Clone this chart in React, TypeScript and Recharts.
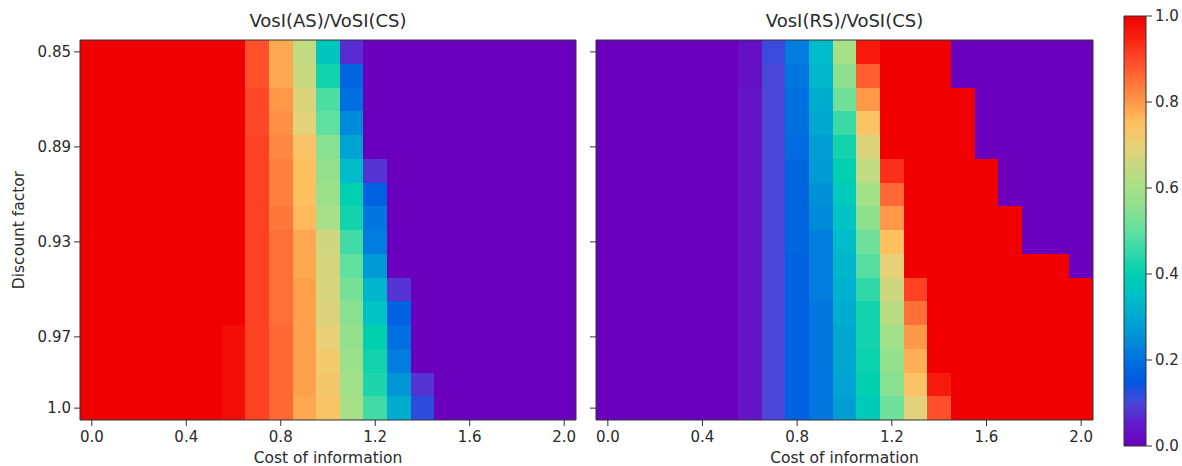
import React from 'react';
import { ScatterChart, Scatter, XAxis, YAxis, ReferenceArea } from 'recharts';

// Categories
const costs = [0.0, 0.1, 0.2, 0.3, 0.4, 0.5, 0.6, 0.7, 0.8, 0.9, 1.0, 1.1, 1.2, 1.3, 1.4, 1.5, 1.6, 1.7, 1.8, 1.9, 2.0];
const discounts = [0.85, 0.86, 0.87, 0.88, 0.89, 0.9, 0.91, 0.92, 0.93, 0.94, 0.95, 0.96, 0.97, 0.98, 0.99, 1.0];

// Tick labels
const xTicks = [0.0, 0.4, 0.8, 1.2, 1.6, 2.0];
const xTickLabels = ['0.0', '0.4', '0.8', '1.2', '1.6', '2.0'];
const yTicks = [0.85, 0.89, 0.93, 0.97, 1.0];
const yTickLabels = ['0.85', '0.89', '0.93', '0.97', '1.0'];
const cbTicks = [0.0, 0.2, 0.4, 0.6, 0.8, 1.0];
const cbTickLabels = ['0.0', '0.2', '0.4', '0.6', '0.8', '1.0'];

// VosI(AS)/VoSI(CS): one row per discount factor, one value per cost
const asGrid = [
  [1, 1, 1, 1, 1, 1, 1, 0.89, 0.78, 0.64, 0.37, 0.07, 0, 0, 0, 0, 0, 0, 0, 0, 0],
  [1, 1, 1, 1, 1, 1, 1, 0.89, 0.78, 0.65, 0.42, 0.18, 0, 0, 0, 0, 0, 0, 0, 0, 0],
  [1, 1, 1, 1, 1, 1, 1, 0.9, 0.8, 0.68, 0.48, 0.2, 0, 0, 0, 0, 0, 0, 0, 0, 0],
  [1, 1, 1, 1, 1, 1, 1, 0.9, 0.81, 0.69, 0.5, 0.24, 0, 0, 0, 0, 0, 0, 0, 0, 0],
  [1, 1, 1, 1, 1, 1, 1, 0.91, 0.82, 0.74, 0.55, 0.29, 0, 0, 0, 0, 0, 0, 0, 0, 0],
  [1, 1, 1, 1, 1, 1, 1, 0.91, 0.83, 0.75, 0.57, 0.34, 0.08, 0, 0, 0, 0, 0, 0, 0, 0],
  [1, 1, 1, 1, 1, 1, 1, 0.91, 0.83, 0.75, 0.58, 0.4, 0.17, 0, 0, 0, 0, 0, 0, 0, 0],
  [1, 1, 1, 1, 1, 1, 1, 0.91, 0.84, 0.76, 0.6, 0.42, 0.21, 0, 0, 0, 0, 0, 0, 0, 0],
  [1, 1, 1, 1, 1, 1, 1, 0.91, 0.85, 0.78, 0.66, 0.47, 0.22, 0, 0, 0, 0, 0, 0, 0, 0],
  [1, 1, 1, 1, 1, 1, 1, 0.91, 0.85, 0.78, 0.67, 0.5, 0.27, 0, 0, 0, 0, 0, 0, 0, 0],
  [1, 1, 1, 1, 1, 1, 1, 0.91, 0.85, 0.79, 0.67, 0.53, 0.33, 0.08, 0, 0, 0, 0, 0, 0, 0],
  [1, 1, 1, 1, 1, 1, 1, 0.91, 0.85, 0.79, 0.68, 0.55, 0.36, 0.17, 0, 0, 0, 0, 0, 0, 0],
  [1, 1, 1, 1, 1, 1, 0.98, 0.91, 0.86, 0.79, 0.7, 0.57, 0.4, 0.2, 0, 0, 0, 0, 0, 0, 0],
  [1, 1, 1, 1, 1, 1, 0.98, 0.91, 0.86, 0.79, 0.72, 0.58, 0.42, 0.22, 0, 0, 0, 0, 0, 0, 0],
  [1, 1, 1, 1, 1, 1, 0.98, 0.91, 0.86, 0.79, 0.73, 0.59, 0.43, 0.26, 0.08, 0, 0, 0, 0, 0, 0],
  [1, 1, 1, 1, 1, 1, 0.98, 0.91, 0.86, 0.78, 0.74, 0.6, 0.47, 0.31, 0.12, 0, 0, 0, 0, 0, 0],
];

// VosI(RS)/VoSI(CS)
const rsGrid = [
  [0, 0, 0, 0, 0, 0, 0.03, 0.11, 0.22, 0.34, 0.6, 0.96, 1, 1, 1, 0, 0, 0, 0, 0, 0],
  [0, 0, 0, 0, 0, 0, 0.03, 0.1, 0.21, 0.33, 0.56, 0.87, 1, 1, 1, 0, 0, 0, 0, 0, 0],
  [0, 0, 0, 0, 0, 0, 0.04, 0.1, 0.2, 0.31, 0.52, 0.8, 1, 1, 1, 1, 0, 0, 0, 0, 0],
  [0, 0, 0, 0, 0, 0, 0.04, 0.1, 0.2, 0.3, 0.46, 0.74, 1, 1, 1, 1, 0, 0, 0, 0, 0],
  [0, 0, 0, 0, 0, 0, 0.04, 0.1, 0.19, 0.28, 0.42, 0.68, 1, 1, 1, 1, 0, 0, 0, 0, 0],
  [0, 0, 0, 0, 0, 0, 0.04, 0.1, 0.18, 0.27, 0.4, 0.64, 0.93, 1, 1, 1, 1, 0, 0, 0, 0],
  [0, 0, 0, 0, 0, 0, 0.04, 0.1, 0.18, 0.25, 0.38, 0.59, 0.86, 1, 1, 1, 1, 0, 0, 0, 0],
  [0, 0, 0, 0, 0, 0, 0.04, 0.1, 0.18, 0.24, 0.36, 0.56, 0.8, 1, 1, 1, 1, 1, 0, 0, 0],
  [0, 0, 0, 0, 0, 0, 0.04, 0.1, 0.18, 0.22, 0.34, 0.52, 0.75, 1, 1, 1, 1, 1, 0, 0, 0],
  [0, 0, 0, 0, 0, 0, 0.04, 0.1, 0.17, 0.22, 0.33, 0.49, 0.7, 1, 1, 1, 1, 1, 1, 1, 0],
  [0, 0, 0, 0, 0, 0, 0.04, 0.1, 0.17, 0.22, 0.32, 0.45, 0.66, 0.91, 1, 1, 1, 1, 1, 1, 1],
  [0, 0, 0, 0, 0, 0, 0.04, 0.1, 0.17, 0.21, 0.31, 0.42, 0.63, 0.85, 1, 1, 1, 1, 1, 1, 1],
  [0, 0, 0, 0, 0, 0, 0.04, 0.1, 0.17, 0.21, 0.3, 0.42, 0.59, 0.8, 1, 1, 1, 1, 1, 1, 1],
  [0, 0, 0, 0, 0, 0, 0.04, 0.1, 0.17, 0.21, 0.3, 0.41, 0.57, 0.77, 1, 1, 1, 1, 1, 1, 1],
  [0, 0, 0, 0, 0, 0, 0.04, 0.1, 0.17, 0.21, 0.29, 0.4, 0.55, 0.74, 0.96, 1, 1, 1, 1, 1, 1],
  [0, 0, 0, 0, 0, 0, 0.04, 0.1, 0.17, 0.21, 0.28, 0.38, 0.52, 0.69, 0.89, 1, 1, 1, 1, 1, 1],
];

// Colour map (rainbow-like, as it appears in the picture)
const cmapStops: [number, number[]][] = [
  [0.0, [106, 0, 190]],
  [0.05, [98, 26, 202]],
  [0.1, [74, 70, 216]],
  [0.15, [0, 88, 224]],
  [0.2, [0, 112, 224]],
  [0.25, [0, 144, 216]],
  [0.3, [0, 168, 208]],
  [0.35, [0, 192, 200]],
  [0.4, [0, 208, 176]],
  [0.45, [48, 216, 168]],
  [0.5, [96, 224, 160]],
  [0.55, [136, 224, 144]],
  [0.6, [168, 224, 136]],
  [0.65, [200, 216, 128]],
  [0.7, [232, 208, 120]],
  [0.75, [255, 192, 96]],
  [0.8, [255, 152, 72]],
  [0.85, [255, 112, 56]],
  [0.9, [255, 72, 40]],
  [0.95, [248, 32, 16]],
  [1.0, [240, 0, 0]],
];

function cmap(v: number): string {
  const t = Math.max(0, Math.min(1, v));
  for (let i = 0; i < cmapStops.length - 1; i++) {
    const [a, ca] = cmapStops[i];
    const [b, cb] = cmapStops[i + 1];
    if (t <= b + 1e-9) {
      const f = b === a ? 0 : (t - a) / (b - a);
      const c = ca.map((x, k) => Math.round(x + (cb[k] - x) * f));
      return `rgb(${c[0]},${c[1]},${c[2]})`;
    }
  }
  const c = cmapStops[cmapStops.length - 1][1];
  return `rgb(${c[0]},${c[1]},${c[2]})`;
}

const FONT = '"DejaVu Sans", sans-serif';
const TXT = '#2a2a2a';
const CELL_W = 0.1;
const CELL_H = 0.01;

function Heatmap(props: {
  grid: number[][];
  title: string;
  left: number;
  width: number;
  yAxisWidth: number;
  marginRight: number;
  showYLabels: boolean;
}) {
  const { grid, title, left, width, yAxisWidth, marginRight, showYLabels } = props;
  const points = [] as { x: number; y: number; v: number }[];
  discounts.forEach((d, r) => {
    costs.forEach((c, k) => {
      points.push({ x: c, y: d, v: grid[r][k] });
    });
  });
  const plotLeft = yAxisWidth;
  const plotWidth = width - yAxisWidth - marginRight;
  return (
    <div style={{ position: 'absolute', left, top: 0, width, height: 466 }}>
      <ScatterChart width={width} height={466} margin={{ top: 40, right: marginRight, bottom: 0, left: 0 }}>
        <XAxis
          type="number"
          dataKey="x"
          domain={[-0.05, 2.05]}
          ticks={xTicks}
          tickFormatter={(v: number) => xTickLabels[xTicks.indexOf(v)]}
          axisLine={false}
          tickLine={{ stroke: '#333' }}
          tickSize={6}
          tickMargin={5}
          height={46}
          allowDataOverflow
          tick={{ fill: TXT, fontSize: 15, fontFamily: FONT }}
        />
        <YAxis
          type="number"
          dataKey="y"
          domain={[0.845, 1.005]}
          reversed
          ticks={yTicks}
          tickFormatter={(v: number) => (showYLabels ? yTickLabels[yTicks.indexOf(v)] : '')}
          axisLine={false}
          tickLine={{ stroke: '#333' }}
          tickSize={6}
          tickMargin={3}
          width={yAxisWidth}
          allowDataOverflow
          tick={{ fill: TXT, fontSize: 15, fontFamily: FONT }}
        />
        {points.map((p, i) => (
          <ReferenceArea
            key={i}
            x1={p.x - CELL_W / 2}
            x2={p.x + CELL_W / 2}
            y1={p.y - CELL_H / 2}
            y2={p.y + CELL_H / 2}
            fill={cmap(p.v)}
            fillOpacity={1}
            stroke="none"
            strokeOpacity={0}
            shapeRendering="crispEdges"
            ifOverflow="visible"
          />
        ))}
        <ReferenceArea
          x1={-0.05}
          x2={2.05}
          y1={0.845}
          y2={1.005}
          fill="none"
          fillOpacity={0}
          stroke="#333"
          strokeWidth={1}
          ifOverflow="visible"
        />
        <Scatter data={points} isAnimationActive={false} shape={() => <g />} />
      </ScatterChart>
      <div
        style={{
          position: 'absolute',
          left: plotLeft,
          width: plotWidth,
          top: 10,
          height: 22,
          lineHeight: '22px',
          textAlign: 'center',
          fontFamily: FONT,
          fontSize: 18,
          color: TXT,
          whiteSpace: 'nowrap',
        }}
      >
        {title}
      </div>
      <div
        style={{
          position: 'absolute',
          left: plotLeft,
          width: plotWidth,
          top: 448,
          height: 20,
          lineHeight: '20px',
          textAlign: 'center',
          fontFamily: FONT,
          fontSize: 15.5,
          color: TXT,
          whiteSpace: 'nowrap',
        }}
      >
        Cost of information
      </div>
    </div>
  );
}

const cbSteps = Array.from({ length: 200 }, (_, i) => i / 200);

function Colorbar() {
  return (
    <div style={{ position: 'absolute', left: 1100, top: 0, width: 82, height: 466 }}>
      <ScatterChart width={82} height={466} margin={{ top: 16, right: 0, bottom: 20, left: 24 }}>
        <XAxis type="number" dataKey="x" domain={[0, 1]} hide allowDataOverflow />
        <YAxis
          type="number"
          dataKey="y"
          orientation="right"
          domain={[0, 1]}
          ticks={cbTicks}
          tickFormatter={(v: number) => cbTickLabels[cbTicks.indexOf(v)]}
          axisLine={false}
          tickLine={{ stroke: '#333' }}
          tickSize={6}
          tickMargin={3}
          width={36}
          allowDataOverflow
          tick={{ fill: TXT, fontSize: 15, fontFamily: FONT }}
        />
        {cbSteps.map((s, i) => (
          <ReferenceArea
            key={i}
            x1={0}
            x2={1}
            y1={s}
            y2={s + 1 / 200}
            fill={cmap(s + 0.0025)}
            fillOpacity={1}
            stroke="none"
            strokeOpacity={0}
            shapeRendering="crispEdges"
            ifOverflow="visible"
          />
        ))}
        <ReferenceArea x1={0} x2={1} y1={0} y2={1} fill="none" fillOpacity={0} stroke="#333" strokeWidth={1} ifOverflow="visible" />
        <Scatter data={[{ x: 0.5, y: 0.5 }]} isAnimationActive={false} shape={() => <g />} />
      </ScatterChart>
    </div>
  );
}

export default function App() {
  return (
    <div style={{ position: 'absolute', left: 0, top: 0, width: 1182, height: 466, background: '#fff', overflow: 'hidden' }}>
      <Heatmap grid={asGrid} title="VosI(AS)/VoSI(CS)" left={0} width={590} yAxisWidth={80} marginRight={14} showYLabels={true} />
      <Heatmap grid={rsGrid} title="VosI(RS)/VoSI(CS)" left={590} width={510} yAxisWidth={6} marginRight={7} showYLabels={false} />
      <Colorbar />
      <div
        style={{
          position: 'absolute',
          left: 19,
          top: 230,
          transform: 'translate(-50%, -50%) rotate(-90deg)',
          fontFamily: FONT,
          fontSize: 15.5,
          color: TXT,
          whiteSpace: 'nowrap',
        }}
      >
        Discount factor
      </div>
    </div>
  );
}
